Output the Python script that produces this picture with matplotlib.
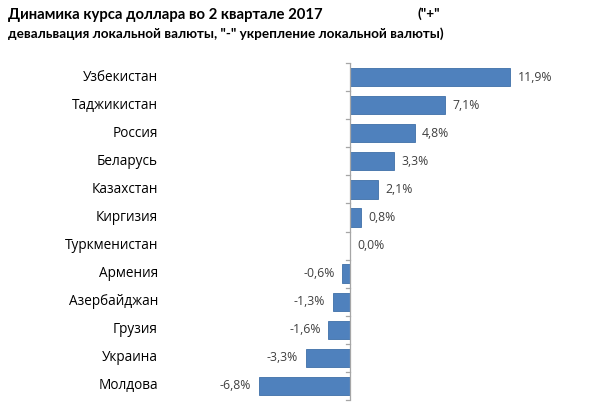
import matplotlib.pyplot as plt
from matplotlib.transforms import blended_transform_factory

plt.rcParams['font.family'] = ['Open Sans', 'DejaVu Sans']

countries = ["Узбекистан", "Таджикистан", "Россия", "Беларусь", "Казахстан",
             "Киргизия", "Туркменистан", "Армения", "Азербайджан", "Грузия",
             "Украина", "Молдова"]
changes = [11.9, 7.1, 4.8, 3.3, 2.1, 0.8, 0.0, -0.6, -1.3, -1.6, -3.3, -6.8]

BAR_COLOR = "#4F81BD"
W, H = 603, 408
TITLE_FONT = ['Lato', 'DejaVu Sans']


def main() -> None:
    fig = plt.figure(figsize=(W / 100, H / 100), dpi=100)
    # axes box in pixels: left 240, right 590, top 63, bottom 400
    ax = fig.add_axes([240 / W, 1 - 400 / H, 350 / W, 337 / H])

    n = len(countries)
    ypos = list(range(n))
    ax.barh(ypos, changes, height=0.65, color=BAR_COLOR,
            edgecolor="#3F6FA8", linewidth=0.6, zorder=2)
    ax.set_ylim(n - 0.5, -0.5)
    ax.set_xlim(-110 / 13.45, 240 / 13.45)

    for s in ax.spines.values():
        s.set_visible(False)
    ax.set_xticks([])
    ax.set_yticks([])
    # vertical zero axis with tick marks at category boundaries
    ax.axvline(0, color="#A6A6A6", linewidth=0.9, zorder=3)
    for b in range(n + 1):
        ax.plot([-0.3, 0], [b - 0.5, b - 0.5], color="#A6A6A6",
                linewidth=0.9, zorder=3, clip_on=False)

    tr = blended_transform_factory(fig.transFigure, ax.transData)
    for y, name in zip(ypos, countries):
        ax.text(158 / W, y, name, transform=tr, ha="right", va="center",
                fontsize=9.8, color="black")

    for y, v in zip(ypos, changes):
        label = f"{v:.1f}%".replace(".", ",")
        if v >= 0:
            ax.text(v + 0.55, y, label, ha="left", va="center",
                    fontsize=8.8, color="#404040")
        else:
            ax.text(v - 0.55, y, label, ha="right", va="center",
                    fontsize=8.8, color="#404040")

    fig.text(8 / W, 1 - 15 / H, "Динамика курса доллара во 2 квартале 2017",
             ha="left", va="center", fontsize=10.7, fontweight="bold",
             family=TITLE_FONT)
    fig.text(418 / W, 1 - 14 / H, '("+"', ha="left", va="center",
             fontsize=9.7, fontweight="bold", family=TITLE_FONT)
    fig.text(8 / W, 1 - 34 / H,
             'девальвация локальной валюты, "-" укрепление локальной валюты)',
             ha="left", va="center", fontsize=9.7, fontweight="bold",
             family=TITLE_FONT)

    fig.savefig("out.png", dpi=100)


if __name__ == "__main__":
    main()
